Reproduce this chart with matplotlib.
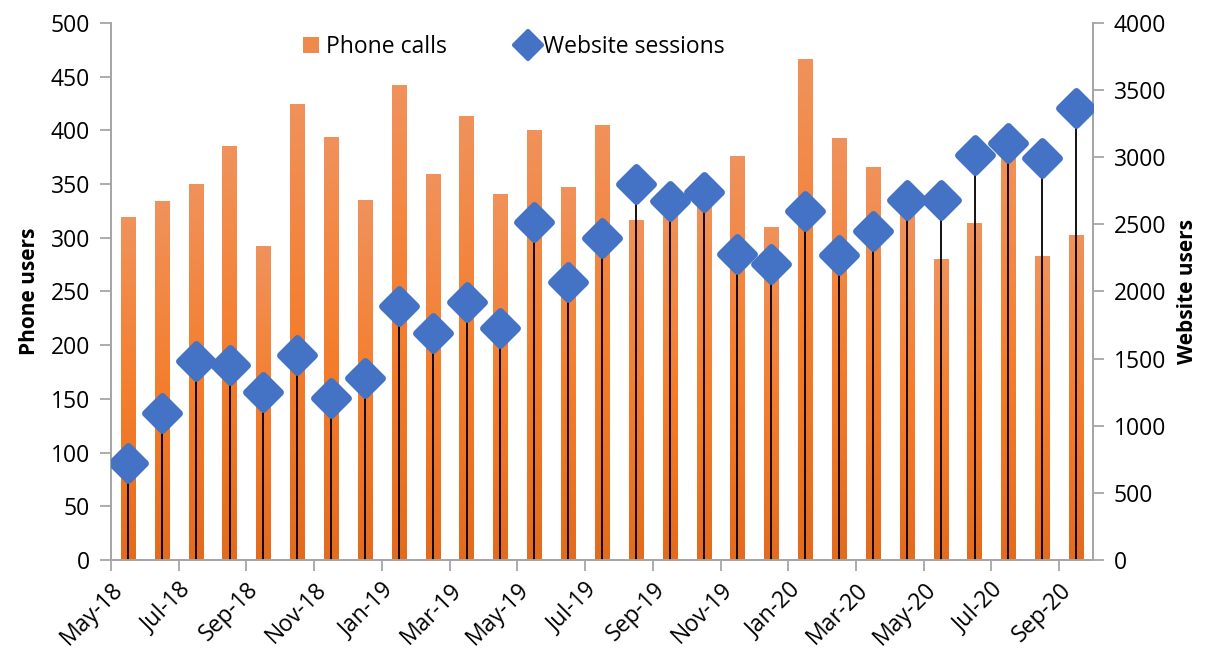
import numpy as np
import matplotlib
matplotlib.use("Agg")
import matplotlib.pyplot as plt
from matplotlib.colors import LinearSegmentedColormap
from matplotlib.lines import Line2D
from matplotlib.markers import MarkerStyle
from matplotlib.patches import Patch

plt.rcParams['font.family'] = ['Open Sans', 'DejaVu Sans']

months = ['May-18', 'Jun-18', 'Jul-18', 'Aug-18', 'Sep-18', 'Oct-18', 'Nov-18', 'Dec-18',
          'Jan-19', 'Feb-19', 'Mar-19', 'Apr-19', 'May-19', 'Jun-19', 'Jul-19', 'Aug-19',
          'Sep-19', 'Oct-19', 'Nov-19', 'Dec-19', 'Jan-20', 'Feb-20', 'Mar-20', 'Apr-20',
          'May-20', 'Jun-20', 'Jul-20', 'Aug-20', 'Sep-20']
phone_calls = [319, 334, 350, 385, 292, 425, 394, 335, 442, 359, 413, 341, 400, 347, 405, 317,
               325, 335, 376, 310, 466, 393, 366, 322, 280, 314, 378, 283, 303]
web_sessions = [724, 1094, 1486, 1450, 1254, 1525, 1207, 1356, 1895, 1691, 1925, 1729, 2514,
                2072, 2395, 2801, 2671, 2740, 2279, 2202, 2602, 2273, 2453, 2680, 2680, 3019,
                3105, 2992, 3370]

x = np.arange(len(months))
orange_cmap = LinearSegmentedColormap.from_list('org', ['#E36B1D', '#F47E2E', '#F0925C'])
blue = '#4472C4'
grey = '#A6A6A6'
diamond = MarkerStyle('D', joinstyle='round')

fig = plt.figure(figsize=(12.11, 6.49), dpi=100)
ax1 = fig.add_axes([0.0917, 0.1371, 0.8109, 0.8275])
ax2 = ax1.twinx()

# bars with a vertical gradient in each
bars = ax1.bar(x, phone_calls, width=0.42, color='none', edgecolor='none')
grad = np.linspace(0, 1, 256).reshape(-1, 1)
for b in bars:
    x0, w, h = b.get_x(), b.get_width(), b.get_height()
    im = ax1.imshow(grad, cmap=orange_cmap, origin='lower', aspect='auto',
                    extent=(x0, x0 + w, 0, h), zorder=2)
    im.set_clip_path(b)

# drop lines + diamonds on the right axis
ax2.vlines(x, 0, web_sessions, color='black', lw=1.3, zorder=2)
ax2.plot(x, web_sessions, linestyle='none', marker=diamond, ms=17, color=blue,
         mec=blue, mew=5, zorder=3)

ax1.set_xlim(-0.5, len(months) - 0.5)
ax1.set_ylim(0, 500)
ax2.set_ylim(0, 4000)
ax1.set_yticks(np.arange(0, 501, 50))
ax2.set_yticks(np.arange(0, 4001, 500))

tick_pos = np.arange(-0.5, len(months) - 1, 2)
ax1.set_xticks(tick_pos)
ax1.set_xticklabels(months[::2], rotation=45, ha='right', va='top', rotation_mode='anchor')

for ax in (ax1, ax2):
    ax.spines['top'].set_visible(False)
    for s in ('left', 'right', 'bottom'):
        ax.spines[s].set_color(grey)
        ax.spines[s].set_linewidth(1.3)
    ax.tick_params(axis='both', color=grey, width=1.3, length=8, labelsize=16.5, pad=7)
ax1.tick_params(axis='x', pad=5)

ax1.set_ylabel('Phone users', fontsize=15, fontweight='bold', labelpad=8)
ax2.set_ylabel('Website users', fontsize=15, fontweight='bold', labelpad=8)

handles = [Patch(facecolor='#F08A4B', edgecolor='none'),
           Line2D([], [], linestyle='none', marker=diamond, ms=14, color=blue, mec=blue, mew=3)]
ax1.legend(handles, ['Phone calls', 'Website sessions'], loc='center',
           bbox_to_anchor=(0.41, 0.955), ncol=2, frameon=False, fontsize=16.5,
           handlelength=0.7, handletextpad=0.3, columnspacing=3.2)

fig.savefig('out.png', dpi=100)
